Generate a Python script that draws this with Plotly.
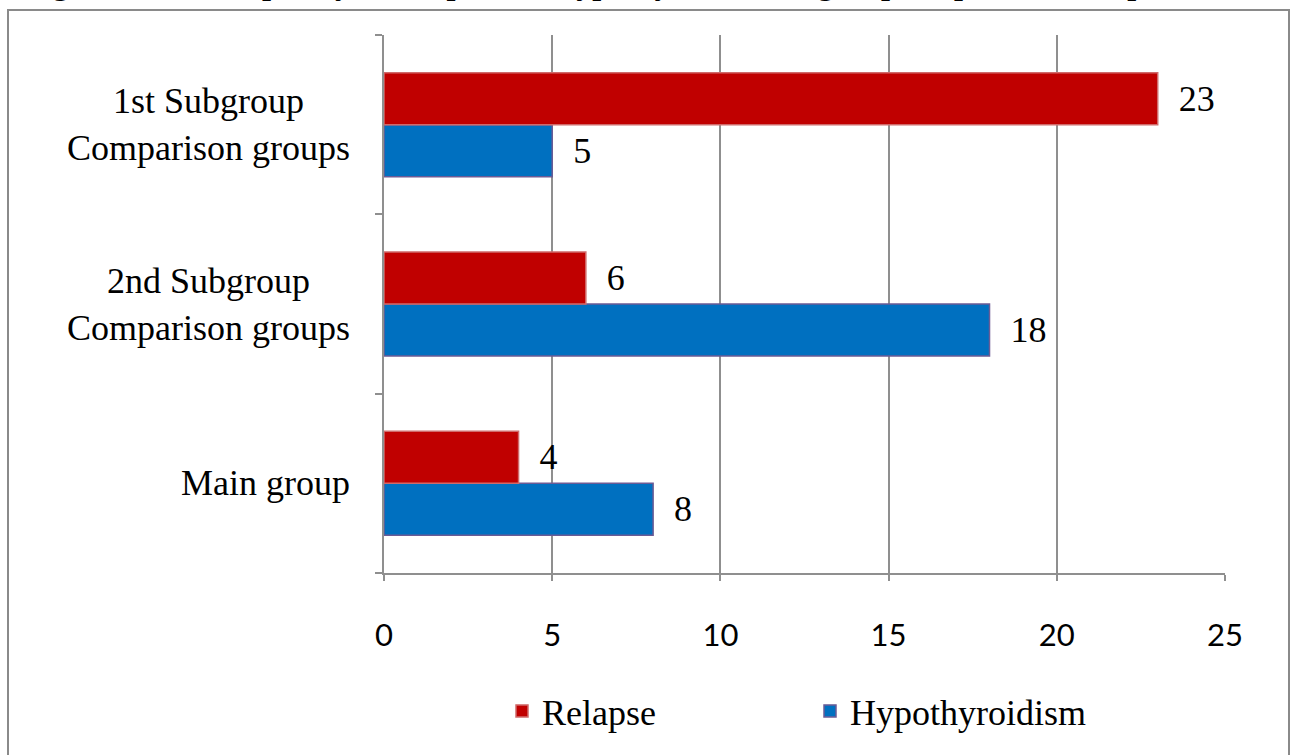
import plotly.graph_objects as go

# Categories listed bottom-to-top (Plotly draws the first category at the bottom)
categories = ["Main group", "2nd Subgroup<br>Comparison groups", "1st Subgroup<br>Comparison groups"]
relapse = [4, 6, 23]
hypothyroidism = [8, 18, 5]
x_ticks = [0, 5, 10, 15, 20, 25]

W, H = 1295, 755
ML, MR, MT, MB = 384, 70, 35, 182
PW, PH = W - ML - MR, H - MT - MB

SERIF = "Liberation Serif, Times New Roman, serif"
RED, BLUE = "#C00000", "#0070C0"
GRID = "#8f8f8f"


def px_x(p):
    return (p - ML) / PW


def px_y(p):
    return (H - MB - p) / PH


fig = go.Figure()
# Hypothyroidism first so it sits below Relapse within each group
fig.add_trace(go.Bar(
    y=categories, x=hypothyroidism, orientation="h", name="Hypothyroidism",
    marker=dict(color=BLUE, line=dict(color="#6b5b95", width=1.5)),
    text=hypothyroidism, texttemplate="\u2002%{x}", textposition="outside",
    textfont=dict(family=SERIF, size=36, color="black"),
    cliponaxis=False, constraintext="none", legendrank=2,
))
fig.add_trace(go.Bar(
    y=categories, x=relapse, orientation="h", name="Relapse",
    marker=dict(color=RED, line=dict(color="#d06a6a", width=1.5)),
    text=relapse, texttemplate="\u2002%{x}", textposition="outside",
    textfont=dict(family=SERIF, size=36, color="black"),
    cliponaxis=False, constraintext="none", legendrank=1,
))

annotations = []
# Category labels, centred line by line, left of the axis
for c in categories:
    annotations.append(dict(
        x=0, xref="paper", xanchor="right", xshift=-32,
        y=c, yref="y", yanchor="middle",
        text=c, align="center", showarrow=False,
        font=dict(family=SERIF, size=36, color="black"),
    ))
# Figure caption above the chart frame (runs off the top of the page)
annotations.append(dict(
    x=px_x(22), xref="paper", xanchor="left",
    y=px_y(3), yref="paper", yanchor="bottom",
    text="<b>Figure 3. The frequency of relapse and hypothyroidism in groups of patients compared</b>",
    showarrow=False, font=dict(family=SERIF, size=32, color="black"),
))

fig.update_layout(
    width=W, height=H,
    margin=dict(l=ML, r=MR, t=MT, b=MB),
    paper_bgcolor="white", plot_bgcolor="white",
    barmode="group", bargap=0.42, bargroupgap=0,
    showlegend=True,
    legend=dict(
        orientation="h", x=px_x(502), xanchor="left",
        y=px_y(711), yanchor="middle",
        font=dict(family=SERIF, size=36, color="black"),
        entrywidth=263, entrywidthmode="pixels",
        bgcolor="rgba(0,0,0,0)",
    ),
    xaxis=dict(
        range=[0, 25], tickvals=x_ticks, ticktext=[str(v) for v in x_ticks],
        showgrid=True, gridcolor=GRID, gridwidth=2,
        showline=True, linecolor=GRID, linewidth=2,
        ticks="outside", ticklen=6, tickcolor=GRID, tickwidth=2,
        zeroline=False, ticklabelstandoff=28,
        tickfont=dict(family="Lato, Open Sans, sans-serif", size=31, color="black"),
    ),
    yaxis=dict(
        type="category", tickson="boundaries",
        showticklabels=False, showgrid=False,
        showline=True, linecolor=GRID, linewidth=2,
        ticks="outside", ticklen=7, tickcolor=GRID, tickwidth=2,
        zeroline=False,
    ),
    annotations=annotations,
    shapes=[dict(
        type="rect", xref="paper", yref="paper",
        x0=px_x(8), x1=px_x(1289), y0=px_y(770), y1=px_y(10),
        line=dict(color="#8a8a8a", width=2), fillcolor="rgba(0,0,0,0)", layer="below",
    )],
)

fig.write_html("out.html")
